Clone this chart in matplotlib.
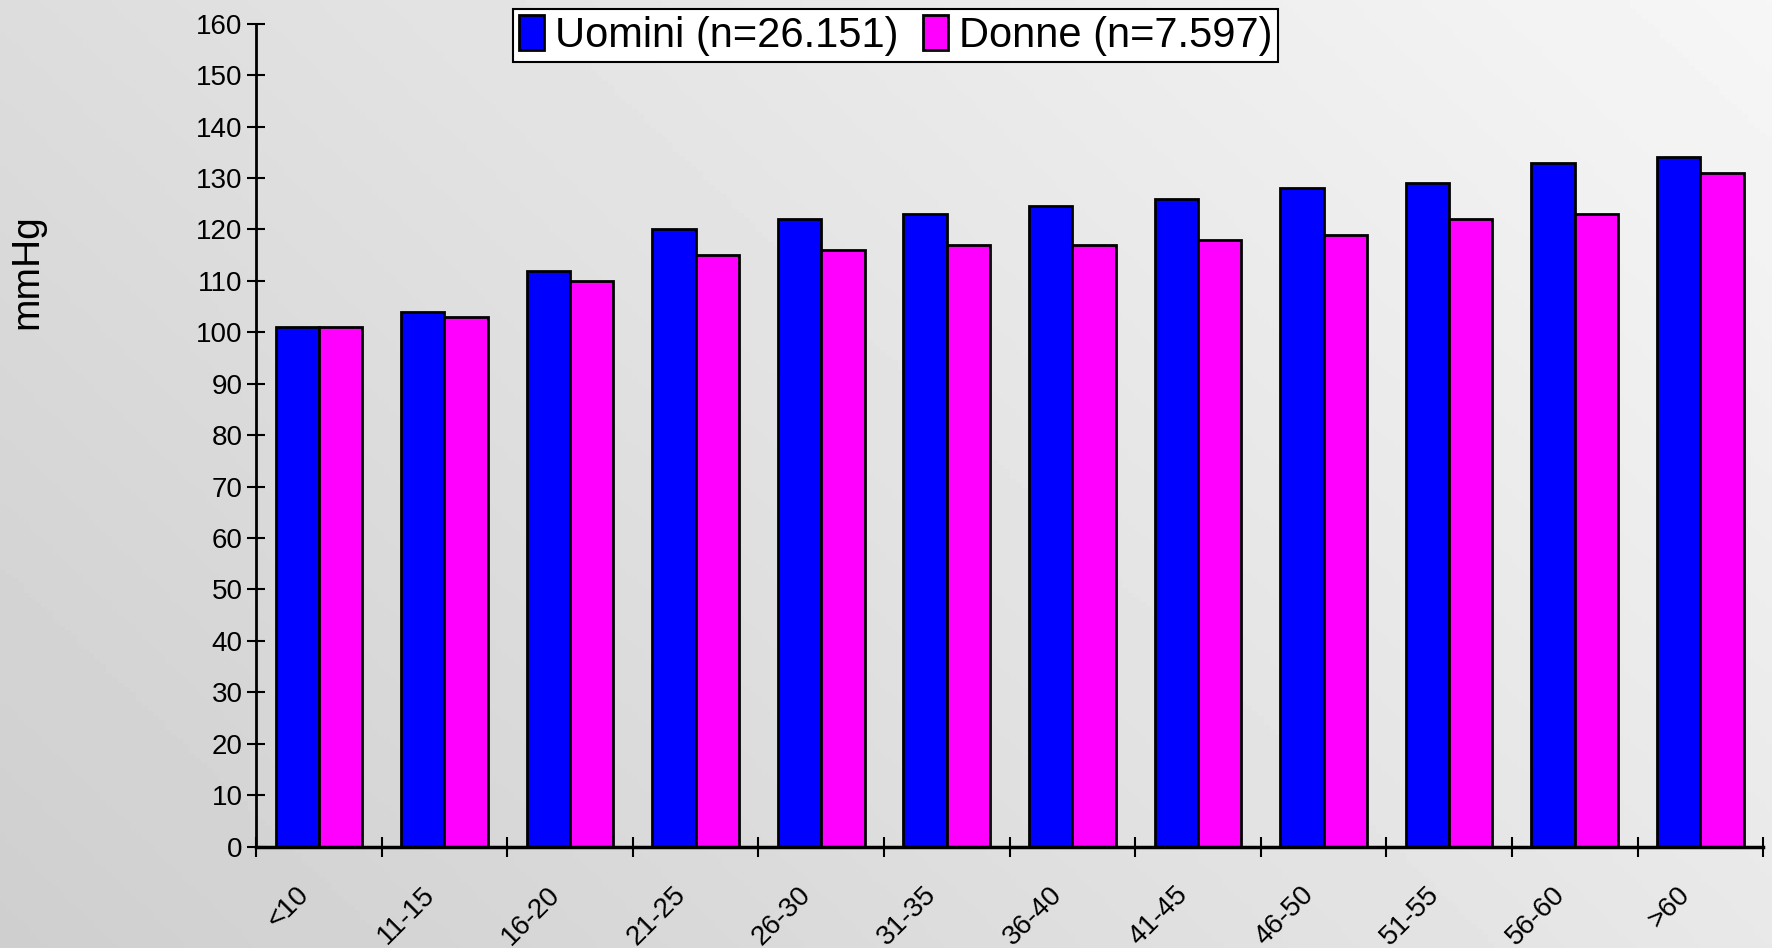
import numpy as np
import matplotlib.pyplot as plt
from matplotlib.transforms import ScaledTranslation

# Dati
categorie = ['<10', '11-15', '16-20', '21-25', '26-30', '31-35', '36-40',
             '41-45', '46-50', '51-55', '56-60', '>60']
uomini = [101, 104, 112, 120, 122, 123, 124.5, 126, 128, 129, 133, 134]
donne = [101, 103, 110, 115, 116, 117, 117, 118, 119, 122, 123, 131]
etichette = ['Uomini (n=26.151)', 'Donne (n=7.597)']

plt.rcParams['font.family'] = ['Liberation Sans', 'DejaVu Sans']

fig = plt.figure(figsize=(17.72, 9.48), dpi=100)

# Sfondo grigio sfumato
bg = fig.add_axes([0, 0, 1, 1], zorder=-10)
gx, gy = np.meshgrid(np.linspace(0, 1, 300), np.linspace(0, 1, 200))
grad = 0.81 + 0.10 * gx + 0.055 * gy
bg.imshow(grad, cmap='gray', vmin=0, vmax=1, origin='lower',
          aspect='auto', extent=[0, 1, 0, 1])
bg.axis('off')

ax = fig.add_axes([0.1445, 0.107, 0.8505, 0.868])
ax.patch.set_alpha(0)

x = np.arange(len(categorie))
w = 0.345
ax.bar(x - w / 2, uomini, w, color='#0000ff', edgecolor='black', linewidth=2, label=etichette[0])
ax.bar(x + w / 2, donne, w, color='#ff00ff', edgecolor='black', linewidth=2, label=etichette[1])

ax.set_xlim(-0.5, len(categorie) - 0.5)
ax.set_ylim(0, 160)
ax.set_yticks(np.arange(0, 161, 10))
ax.tick_params(axis='y', direction='inout', length=13.5, width=1.5, labelsize=20, pad=3)

# tacche tra le categorie, etichette al centro
ax.set_xticks(np.arange(-0.5, len(categorie), 1))
ax.set_xticklabels([])
ax.tick_params(axis='x', which='major', direction='inout', length=14.5, width=1.5)
ax.set_xticks(x, minor=True)
ax.set_xticklabels(categorie, minor=True, rotation=45, ha='right', va='center',
                   rotation_mode='anchor', fontsize=20)
ax.tick_params(axis='x', which='minor', length=0, pad=32)
sposta = ScaledTranslation(-14 / 100, 0, fig.dpi_scale_trans)
for lab in ax.get_xticklabels(minor=True):
    lab.set_transform(lab.get_transform() + sposta)

for s in ['top', 'right']:
    ax.spines[s].set_visible(False)
ax.spines['left'].set_linewidth(2)
ax.spines['bottom'].set_linewidth(2.5)

fig.text(0.005, 0.714, 'mmHg', rotation=90, fontsize=28, ha='left', va='center')

leg = ax.legend(loc='upper center', bbox_to_anchor=(0.4244, 1.018), ncol=2,
                fontsize=30, frameon=True, fancybox=False, shadow=False,
                handlelength=0.6, handleheight=0.9, handletextpad=0.25,
                columnspacing=0.6, borderpad=0.15, borderaxespad=0)
leg.get_frame().set_edgecolor('black')
leg.get_frame().set_linewidth(1.5)
leg.get_frame().set_facecolor('white')
leg.get_frame().set_alpha(1)

fig.savefig('out.png', dpi=100)
